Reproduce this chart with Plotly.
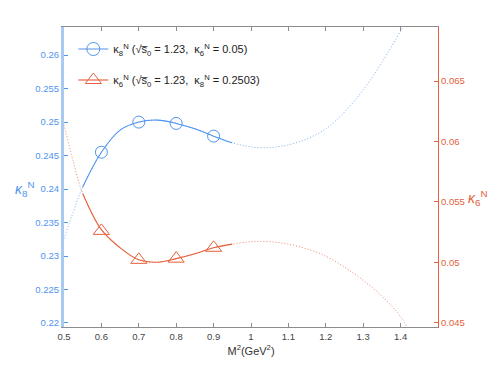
import numpy as np
from plotly import graph_objects as go

# Borel mass M^2 (GeV^2) sample points
m2_k8 = [0.5, 0.525, 0.55, 0.6, 0.65, 0.7, 0.75, 0.8, 0.85, 0.9, 0.95, 1.0, 1.05,
         1.1, 1.15, 1.2, 1.25, 1.3, 1.35, 1.4, 1.41]
k8_curve = [0.2326, 0.2366, 0.2403, 0.2455, 0.2488, 0.2500, 0.2503, 0.2498, 0.2490, 0.2479,
            0.2469, 0.2463, 0.2462, 0.2466, 0.2475, 0.2490, 0.2515, 0.2548, 0.2589, 0.2636, 0.2645]

m2_k6 = [0.5, 0.525, 0.55, 0.6, 0.65, 0.7, 0.75, 0.8, 0.85, 0.9, 0.95, 1.0, 1.05,
         1.1, 1.15, 1.2, 1.25, 1.3, 1.35, 1.4, 1.42]
k6_curve = [0.0614, 0.0583, 0.0557, 0.0527, 0.0512, 0.0502, 0.0500, 0.0503, 0.0507, 0.0512,
            0.0515, 0.0517, 0.0517, 0.0515, 0.0511, 0.0505, 0.0496, 0.0485, 0.0472, 0.0455, 0.0445]

# marked points
m2_pts = [0.6, 0.7, 0.8, 0.9]
k8_pts = [0.2455, 0.2500, 0.2498, 0.2479]
k6_pts = [0.0526, 0.0502, 0.0503, 0.0512]

x_ticks = [0.5, 0.6, 0.7, 0.8, 0.9, 1.0, 1.1, 1.2, 1.3, 1.4]
x_labels = ['0.5', '0.6', '0.7', '0.8', '0.9', '1', '1.1', '1.2', '1.3', '1.4']

solid_lo, solid_hi = 0.55, 0.95

BLUE = '#4f94ef'
BLUE_AXIS = '#a9c9f2'
RED = '#e5603b'
GRAY = '#8c8c8c'

name_k8 = 'κ<sub>8</sub><sup>N</sup> (√s\u0305<sub>0</sub> = 1.23,  κ<sub>6</sub><sup>N</sup> = 0.05)'
name_k6 = 'κ<sub>6</sub><sup>N</sup> (√s\u0305<sub>0</sub> = 1.23,  κ<sub>8</sub><sup>N</sup> = 0.2503)'


def solid_part(xs, ys):
    xs = np.array(xs)
    ys = np.array(ys)
    mask = (xs >= solid_lo) & (xs <= solid_hi)
    return xs[mask], ys[mask]


fig = go.Figure()

# dotted full-range curves
fig.add_trace(go.Scatter(x=m2_k8, y=k8_curve, mode='lines', showlegend=False,
                         line=dict(color=BLUE, width=1, dash='1px,2px', shape='spline'), opacity=0.75))
fig.add_trace(go.Scatter(x=m2_k6, y=k6_curve, mode='lines', showlegend=False, yaxis='y2',
                         line=dict(color=RED, width=1, dash='1px,2px', shape='spline'), opacity=0.75))

# solid part
sx, sy = solid_part(m2_k8, k8_curve)
fig.add_trace(go.Scatter(x=sx, y=sy, mode='lines', showlegend=False,
                         line=dict(color=BLUE, width=1.1, shape='spline')))
sx, sy = solid_part(m2_k6, k6_curve)
fig.add_trace(go.Scatter(x=sx, y=sy, mode='lines', showlegend=False, yaxis='y2',
                         line=dict(color=RED, width=1.1, shape='spline')))

# markers
fig.add_trace(go.Scatter(x=m2_pts, y=k8_pts, mode='markers', showlegend=False,
                         marker=dict(symbol='circle-open', size=12, color=BLUE, line=dict(width=1))))
fig.add_trace(go.Scatter(x=m2_pts, y=k6_pts, mode='markers', showlegend=False, yaxis='y2',
                         marker=dict(symbol='triangle-up-open', size=14, color=RED, line=dict(width=1))))

# legend entries
fig.add_trace(go.Scatter(x=[None], y=[None], mode='lines+markers', name=name_k8, legendgroup='a',
                         line=dict(color=BLUE_AXIS, width=2),
                         marker=dict(symbol='circle-open', size=13, color=BLUE, line=dict(width=1))))
fig.add_trace(go.Scatter(x=[None], y=[None], mode='lines+markers', name=name_k6, legendgroup='b',
                         yaxis='y2', line=dict(color='#f0a48f', width=2),
                         marker=dict(symbol='triangle-up-open', size=14, color=RED, line=dict(width=1))))

fig.update_layout(
    width=491, height=368,
    margin=dict(l=64, r=53, t=27, b=41),
    paper_bgcolor='white', plot_bgcolor='white',
    font=dict(family='Liberation Sans, Arial, sans-serif', size=10, color='#333333'),
    legend=dict(x=0.025, y=0.975, xanchor='left', yanchor='top', bgcolor='rgba(0,0,0,0)',
                traceorder='grouped', tracegroupgap=12, font=dict(size=11, color='#222222')),
    xaxis=dict(range=[0.5, 1.5], tickvals=x_ticks, ticktext=x_labels, showgrid=False, zeroline=False,
               showline=True, linecolor=GRAY, linewidth=1.2, mirror='ticks',
               ticks='inside', ticklen=4, tickcolor=GRAY, tickfont=dict(size=9.5, color='#444444'),
               title=dict(text='M<sup>2</sup>(GeV<sup>2</sup>)', standoff=6,
                          font=dict(size=11, color='#333333'))),
    yaxis=dict(range=[0.2194, 0.2642], dtick=0.005, tick0=0.22, showgrid=False, zeroline=False,
               showline=True, linecolor=BLUE_AXIS, linewidth=3, ticks='inside', ticklen=4,
               tickcolor=BLUE, tickfont=dict(size=9.5, color=BLUE)),
    yaxis2=dict(range=[0.04464, 0.06948], dtick=0.005, tick0=0.045, overlaying='y', side='right',
                showgrid=False, zeroline=False, showline=True, linecolor=RED, linewidth=1.3,
                ticks='inside', ticklen=4, tickcolor=RED, tickfont=dict(size=9.5, color=RED)),
)

# horizontal axis titles as in the original
fig.add_annotation(text='<i>κ</i><sub>8</sub><sup>N</sup>', xref='paper', yref='paper',
                   x=-0.104, y=0.46, xanchor='center', yanchor='middle', showarrow=False,
                   font=dict(size=14, color=BLUE))
fig.add_annotation(text='<i>κ</i><sub>6</sub><sup>N</sup>', xref='paper', yref='paper',
                   x=1.076, y=0.43, xanchor='left', yanchor='middle', showarrow=False,
                   font=dict(size=14, color=RED))

# drop the default body margin so the 491x368 figure fills the window exactly
fig.write_html("out.html", config={'displayModeBar': False},
               post_script="document.body.style.margin='0px';")
